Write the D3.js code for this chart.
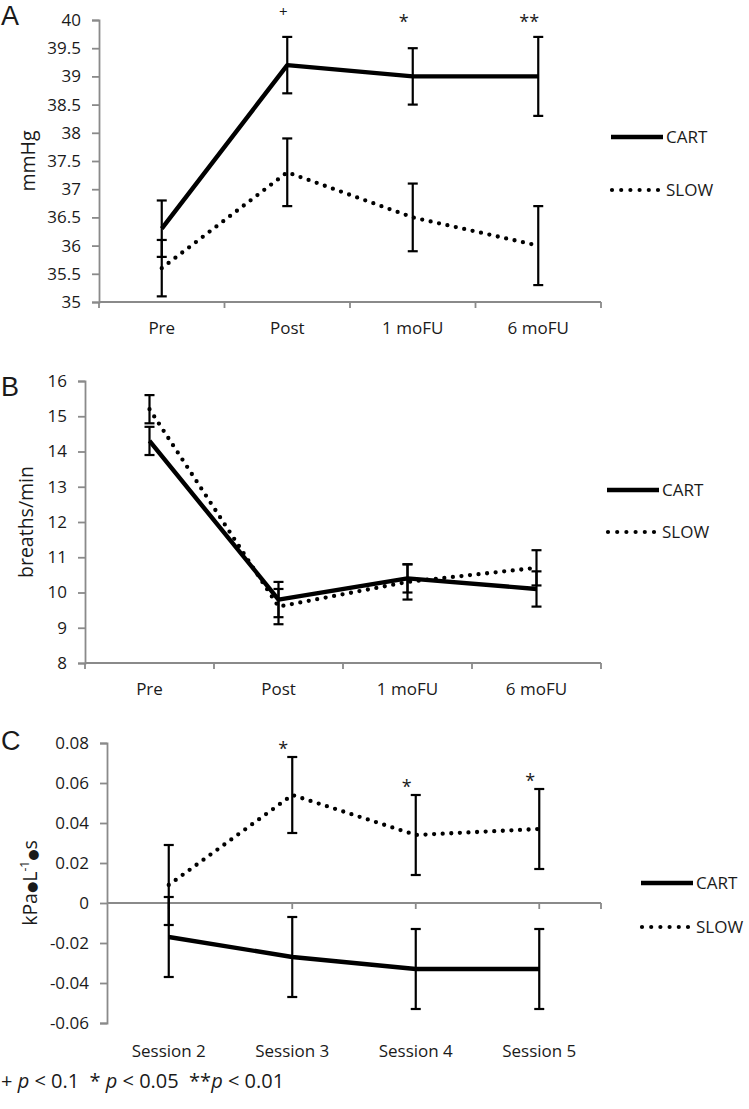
<!DOCTYPE html>
<html>
<head>
<meta charset="utf-8">
<script src="https://cdn.jsdelivr.net/npm/d3@7/dist/d3.min.js"></script>
<style>
  html, body { margin: 0; padding: 0; background: #fff; }
  svg { display: block; }
  text { font-family: "Open Sans", "DejaVu Sans", sans-serif; fill: #1a1a1a; }
</style>
</head>
<body>
<svg id="chart" width="749" height="1109"></svg>
<script>
// ---------- DATA ----------
const seriesNames = ["CART", "SLOW"];

// Panel A: PETCO2 (mmHg)
const catsA = ["Pre", "Post", "1 moFU", "6 moFU"];
const cartA = [36.3, 39.2, 39.0, 39.0];
const cartErrA = [0.5, 0.5, 0.5, 0.7];
const slowA = [35.6, 37.3, 36.5, 36.0];
const slowErrA = [0.5, 0.6, 0.6, 0.7];
const ticksA = [35, 35.5, 36, 36.5, 37, 37.5, 38, 38.5, 39, 39.5, 40];
const sigA = ["", "+", "*", "**"];

// Panel B: respiratory rate (breaths/min)
const catsB = ["Pre", "Post", "1 moFU", "6 moFU"];
const cartB = [14.3, 9.8, 10.4, 10.1];
const cartErrB = [0.4, 0.5, 0.4, 0.5];
const slowB = [15.2, 9.6, 10.3, 10.7];
const slowErrB = [0.4, 0.5, 0.5, 0.5];
const ticksB = [8, 9, 10, 11, 12, 13, 14, 15, 16];
const sigB = ["", "", "", ""];

// Panel C: resistance change (kPa·L-1·s)
const catsC = ["Session 2", "Session 3", "Session 4", "Session 5"];
const cartC = [-0.017, -0.027, -0.033, -0.033];
const cartErrC = [0.02, 0.02, 0.02, 0.02];
const slowC = [0.009, 0.054, 0.034, 0.037];
const slowErrC = [0.02, 0.019, 0.02, 0.02];
const ticksC = [-0.06, -0.04, -0.02, 0, 0.02, 0.04, 0.06, 0.08];
const sigC = ["", "*", "*", "*"];

const footnote = [
  {t: "+ ", i: false}, {t: "p", i: true}, {t: " < 0.1  * ", i: false},
  {t: "p", i: true}, {t: " < 0.05  **", i: false}, {t: "p", i: true}, {t: " < 0.01", i: false}
];

// ---------- LAYOUT ----------
const svg = d3.select("#chart");
const axisColor = "#8a8a8a";
const FS = "17px";
const TFS = "19.5px";

const panels = [
  { letter: "A", letterY: 25, title: "mmHg", titleX: 35,
    cats: catsA, cart: cartA, cartErr: cartErrA, slow: slowA, slowErr: slowErrA,
    ticks: ticksA, fmt: d3.format(""), sig: sigA,
    x0: 99, x1: 601, yTop: 20, yBot: 302, xAxisAt: 35,
    catY: 334, legX: 611, legY1: 137, legY2: 190, sigMode: "top" },
  { letter: "B", letterY: 396, title: "breaths/min", titleX: 33,
    cats: catsB, cart: cartB, cartErr: cartErrB, slow: slowB, slowErr: slowErrB,
    ticks: ticksB, fmt: d3.format(""), sig: sigB,
    x0: 85, x1: 601, yTop: 381, yBot: 663, xAxisAt: 8,
    catY: 695, legX: 607, legY1: 490, legY2: 532, sigMode: "none" },
  { letter: "C", letterY: 750, title: "kPa", titleX: 37,
    cats: catsC, cart: cartC, cartErr: cartErrC, slow: slowC, slowErr: slowErrC,
    ticks: ticksC, fmt: d => d === 0 ? "0" : d3.format(".2f")(d).replace("\u2212", "-"), sig: sigC,
    x0: 107, x1: 601, yTop: 743, yBot: 1023, xAxisAt: 0,
    catY: 1057, legX: 641, legY1: 883, legY2: 927, sigMode: "bar" }
];

panels.forEach(p => {
  const g = svg.append("g");
  const domain = [d3.min(p.ticks), d3.max(p.ticks)];
  const y = d3.scaleLinear().domain(domain).range([p.yBot, p.yTop]);
  const x = d3.scaleBand().domain(p.cats).range([p.x0, p.x1]).padding(0);
  const cx = c => x(c) + x.bandwidth() / 2;

  // y axis
  const yAxis = d3.axisLeft(y).tickValues(p.ticks).tickFormat(p.fmt).tickSize(7).tickPadding(11);
  const ya = g.append("g").attr("transform", `translate(${p.x0},0)`).call(yAxis);
  ya.select(".domain").attr("stroke", axisColor).attr("stroke-width", 1.8);
  ya.selectAll(".tick line").attr("stroke", axisColor).attr("stroke-width", 1.8);
  ya.selectAll(".tick text").style("font-size", FS).attr("fill", "#1a1a1a")
    .style("font-family", '"Open Sans", sans-serif');

  // x axis
  const xy = y(p.xAxisAt);
  const xg = g.append("g");
  xg.append("line").attr("x1", p.x0).attr("x2", p.x1).attr("y1", xy).attr("y2", xy)
    .attr("stroke", axisColor).attr("stroke-width", 1.8);
  let tickXs;
  if (p.sigMode === "bar") {
    tickXs = p.cats.map(cx).concat([p.x1]);
  } else {
    tickXs = p.cats.map(c => x(c)).concat([p.x1]);
  }
  xg.selectAll("line.xt").data(tickXs).join("line").attr("class", "xt")
    .attr("x1", d => d).attr("x2", d => d).attr("y1", xy).attr("y2", xy + 6)
    .attr("stroke", axisColor).attr("stroke-width", 1.8);
  g.selectAll("text.cat").data(p.cats).join("text").attr("class", "cat")
    .attr("x", d => cx(d)).attr("y", p.catY).attr("text-anchor", "middle")
    .style("font-size", FS).text(d => d);

  // axis title
  const tt = g.append("text")
    .attr("transform", `translate(${p.titleX},${(p.yTop + p.yBot) / 2}) rotate(-90)`)
    .attr("text-anchor", "middle").style("font-size", TFS);
  if (p.letter === "C") {
    tt.append("tspan").text("kPa");
    tt.append("tspan").style("font-size", "13px").attr("dy", -1).text("\u25CF");
    tt.append("tspan").attr("dy", 1).text("L");
    tt.append("tspan").attr("dy", -8).style("font-size", "12px").text("-1");
    tt.append("tspan").attr("dy", 8).style("font-size", "13px").text("\u25CF");
    tt.append("tspan").text("s");
  } else {
    tt.text(p.title);
  }

  // panel letter
  g.append("text").attr("x", 1).attr("y", p.letterY)
    .style("font-family", '"Liberation Sans", Arial, sans-serif')
    .style("font-size", "27px").attr("fill", "#000").text(p.letter);

  const line = d3.line().x((d, i) => cx(p.cats[i])).y(d => y(d));

  // error bars
  const drawErr = (vals, errs) => {
    const eg = g.append("g").attr("stroke", "#000").attr("stroke-width", 2.2);
    vals.forEach((v, i) => {
      const xc = cx(p.cats[i]);
      const hi = y(v + errs[i]), lo = y(v - errs[i]);
      eg.append("line").attr("x1", xc).attr("x2", xc).attr("y1", hi).attr("y2", lo);
      eg.append("line").attr("x1", xc - 5).attr("x2", xc + 5).attr("y1", hi).attr("y2", hi);
      eg.append("line").attr("x1", xc - 5).attr("x2", xc + 5).attr("y1", lo).attr("y2", lo);
    });
  };
  drawErr(p.slow, p.slowErr);
  drawErr(p.cart, p.cartErr);

  // lines
  g.append("path").datum(p.slow).attr("d", line).attr("fill", "none")
    .attr("stroke", "#000").attr("stroke-width", 4.3)
    .attr("stroke-linecap", "round").attr("stroke-dasharray", "0 8.6");
  g.append("path").datum(p.cart).attr("d", line).attr("fill", "none")
    .attr("stroke", "#000").attr("stroke-width", 4.4).attr("stroke-linejoin", "round");

  // significance marks
  p.sig.forEach((s, i) => {
    if (!s) return;
    let ty;
    const xc = cx(p.cats[i]);
    if (p.sigMode === "top") {
      ty = s === "+" ? p.yTop - 3 : p.yTop + 8;
    } else {
      const top = Math.max(p.slow[i] + p.slowErr[i], p.cart[i] + p.cartErr[i]);
      ty = y(top) - 2;
    }
    g.append("text").attr("x", xc - (s === "+" ? 4 : 9)).attr("y", ty)
      .attr("text-anchor", "middle").style("font-size", s === "+" ? "15px" : "18px").text(s);
  });

  // legend
  const lg = g.append("g");
  lg.append("line").attr("x1", p.legX).attr("x2", p.legX + 52).attr("y1", p.legY1).attr("y2", p.legY1)
    .attr("stroke", "#000").attr("stroke-width", 4.4);
  lg.append("line").attr("x1", p.legX + 1).attr("x2", p.legX + 48).attr("y1", p.legY2).attr("y2", p.legY2)
    .attr("stroke", "#000").attr("stroke-width", 4.2).attr("stroke-linecap", "round")
    .attr("stroke-dasharray", "0 9.2");
  lg.append("text").attr("x", p.legX + 55).attr("y", p.legY1 + 6).style("font-size", FS).text(seriesNames[0]);
  lg.append("text").attr("x", p.legX + 55).attr("y", p.legY2 + 6).style("font-size", FS).text(seriesNames[1]);
});

// footnote
const fn = svg.append("text").attr("x", 1).attr("y", 1088).style("font-size", "20px")
  .style("white-space", "pre").attr("xml:space", "preserve");
footnote.forEach(s => fn.append("tspan").style("font-style", s.i ? "italic" : "normal").text(s.t));
</script>
</body>
</html>
